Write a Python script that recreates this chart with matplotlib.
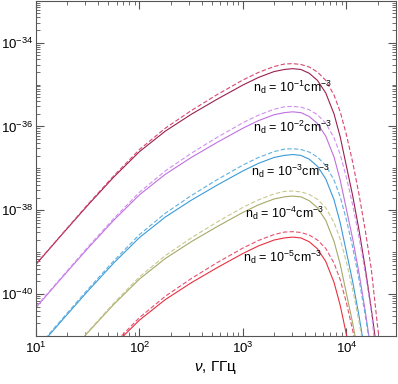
import numpy as np
import matplotlib
matplotlib.use("Agg")
import matplotlib.pyplot as plt
import matplotlib.ticker as mtick

plt.rcParams["font.family"] = ["Liberation Sans", "DejaVu Sans"]
plt.rcParams["mathtext.fontset"] = "custom"
plt.rcParams["mathtext.rm"] = "Liberation Sans"
plt.rcParams["mathtext.it"] = "Liberation Sans:italic"

# log10 of frequency (GHz), shared by all curves
log_nu = [1.00, 1.25, 1.50, 1.75, 2.00, 2.25, 2.50, 2.75, 3.00, 3.15, 3.30, 3.40, 3.48,
          3.56, 3.64, 3.72, 3.80, 3.88, 3.94, 4.00, 4.06, 4.12, 4.18, 4.24, 4.30, 4.36]

# log10 of emissivity, solid curves
solid_1 = [-39.29, -38.58, -37.88, -37.21, -36.60, -36.11, -35.71, -35.35, -35.01, -34.83, -34.69, -34.64, -34.62,
           -34.64, -34.73, -34.90, -35.20, -35.70, -36.25, -36.95, -37.65, -38.45, -39.35, -40.35, -41.45, -42.60]
solid_2 = [-40.32, -39.61, -38.91, -38.24, -37.63, -37.14, -36.74, -36.38, -36.04, -35.86, -35.72, -35.67, -35.65,
           -35.67, -35.76, -35.93, -36.23, -36.73, -37.28, -37.98, -38.68, -39.48, -40.38, -41.38, -42.48, -43.63]
solid_3 = [-41.34, -40.63, -39.93, -39.26, -38.65, -38.16, -37.76, -37.40, -37.06, -36.88, -36.74, -36.69, -36.67,
           -36.69, -36.78, -36.95, -37.25, -37.75, -38.30, -39.00, -39.70, -40.50, -41.40, -42.40, -43.50, -44.65]
solid_4 = [-42.33, -41.62, -40.92, -40.25, -39.64, -39.15, -38.75, -38.39, -38.05, -37.87, -37.73, -37.68, -37.66,
           -37.68, -37.77, -37.94, -38.24, -38.74, -39.29, -39.99, -40.69, -41.49, -42.39, -43.39, -44.49, -45.64]
solid_5 = [-43.31, -42.60, -41.90, -41.23, -40.62, -40.13, -39.73, -39.37, -39.03, -38.85, -38.71, -38.66, -38.64,
           -38.66, -38.75, -38.92, -39.22, -39.72, -40.27, -40.97, -41.67, -42.47, -43.37, -44.37, -45.47, -46.62]

# dashed curves
dashed_1 = [-39.28, -38.57, -37.86, -37.18, -36.55, -36.04, -35.62, -35.24, -34.89, -34.71, -34.57, -34.51, -34.50,
            -34.52, -34.58, -34.70, -34.90, -35.25, -35.65, -36.20, -36.85, -37.60, -38.45, -39.40, -40.75, -41.90]
dashed_2 = [-40.30, -39.59, -38.88, -38.20, -37.57, -37.06, -36.64, -36.26, -35.91, -35.73, -35.59, -35.53, -35.52,
            -35.54, -35.60, -35.72, -35.92, -36.27, -36.67, -37.22, -37.87, -38.62, -39.47, -40.42, -41.77, -42.92]
dashed_3 = [-41.31, -40.60, -39.89, -39.21, -38.58, -38.07, -37.65, -37.27, -36.92, -36.74, -36.60, -36.54, -36.53,
            -36.55, -36.61, -36.73, -36.93, -37.28, -37.68, -38.23, -38.88, -39.63, -40.48, -41.43, -42.78, -43.93]
dashed_4 = [-42.32, -41.61, -40.90, -40.22, -39.59, -39.08, -38.66, -38.28, -37.93, -37.75, -37.61, -37.55, -37.54,
            -37.56, -37.62, -37.74, -37.94, -38.29, -38.69, -39.24, -39.89, -40.64, -41.49, -42.44, -43.79, -44.94]
dashed_5 = [-43.29, -42.58, -41.87, -41.19, -40.56, -40.05, -39.63, -39.25, -38.90, -38.72, -38.58, -38.52, -38.51,
            -38.53, -38.59, -38.71, -38.91, -39.26, -39.66, -40.21, -40.86, -41.61, -42.46, -43.41, -44.76, -45.91]

density_exp = [-1, -2, -3, -4, -5]
solid_colors = ["#9a2050", "#c070e0", "#3a9ad8", "#a8a868", "#e83040"]
dashed_colors = ["#d84870", "#d090f0", "#60b0e0", "#c8c890", "#e85070"]
label_x = [1240, 1240, 1200, 1035, 1000]
label_y = [-35.17, -36.14, -37.19, -38.17, -39.24]


def main():
    fig = plt.figure(figsize=(3.98, 3.84), dpi=100)
    ax = fig.add_axes([0.0905, 0.125, 0.904, 0.873])

    nu = 10 ** np.array(log_nu)
    solids = [solid_1, solid_2, solid_3, solid_4, solid_5]
    dasheds = [dashed_1, dashed_2, dashed_3, dashed_4, dashed_5]
    for s, d, cs, cd in zip(solids, dasheds, solid_colors, dashed_colors):
        ax.plot(nu, 10 ** np.array(s), color=cs, lw=0.8)
        ax.plot(nu, 10 ** np.array(d), color=cd, lw=0.8, dashes=(4, 2))

    for e, x, y in zip(density_exp, label_x, label_y):
        ax.text(x, 10 ** y, r"$\mathrm{n_d}$ = 10$^{%d}$cm$^{-3}$" % e,
                fontsize=9, ha="left", va="baseline")

    ax.set_xscale("log")
    ax.set_yscale("log")
    ax.set_xlim(10, 3e4)
    ax.set_ylim(1e-41, 1e-33)

    ax.xaxis.set_major_locator(mtick.LogLocator(base=10, numticks=10))
    ax.xaxis.set_minor_locator(mtick.LogLocator(base=10, subs=np.arange(2, 10), numticks=20))
    ax.yaxis.set_major_locator(mtick.FixedLocator([1e-40, 1e-38, 1e-36, 1e-34]))
    ax.yaxis.set_minor_locator(mtick.LogLocator(base=10, subs=np.arange(1, 10), numticks=30))
    ax.yaxis.set_minor_formatter(mtick.NullFormatter())

    ax.tick_params(which="both", direction="in", top=True, right=True, colors="#555555",
                   labelcolor="black", labelsize=9.5)
    ax.tick_params(which="major", length=6, width=0.8)
    ax.tick_params(which="minor", length=3, width=0.6)
    ax.tick_params(axis="y", which="major", pad=2)
    for sp in ax.spines.values():
        sp.set_color("#555555")
        sp.set_linewidth(0.8)

    ax.set_xlabel(r"$\nu$, ГГц", fontsize=11, labelpad=2)

    fig.savefig("out.png", dpi=100)


if __name__ == "__main__":
    main()
